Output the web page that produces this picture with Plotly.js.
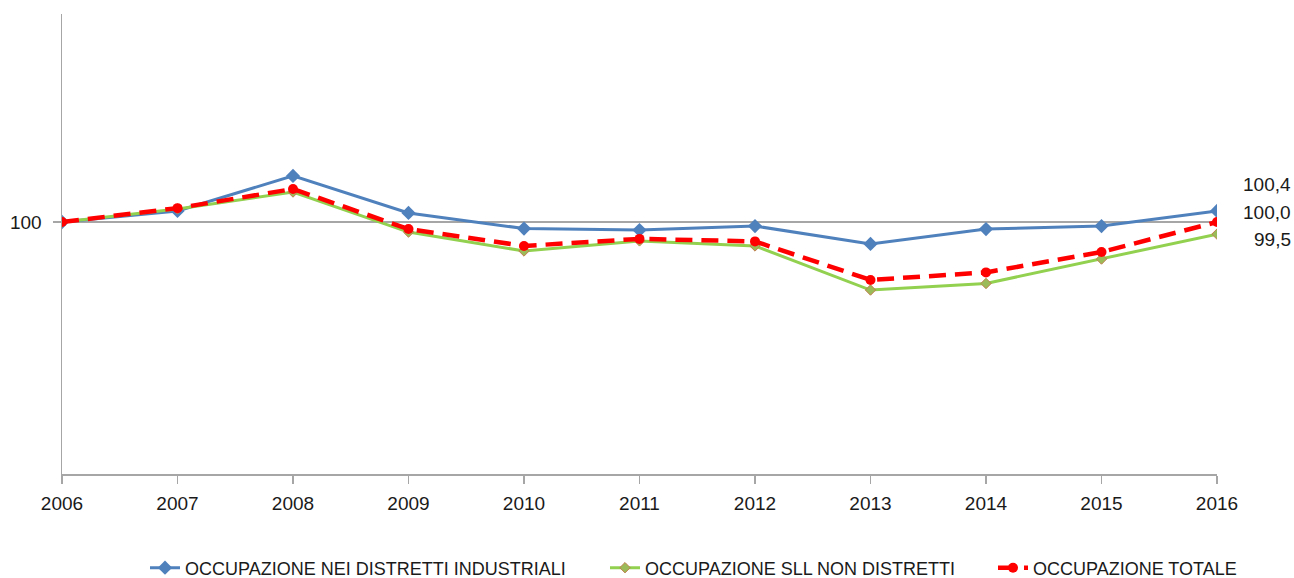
<!DOCTYPE html>
<html>
<head>
<meta charset="utf-8">
<script src="https://cdn.plot.ly/plotly-3.0.1.min.js"></script>
<style>html,body{margin:0;padding:0;background:#fff;}#chart{width:1294px;height:578px;}</style>
</head>
<body>
<div id="chart"></div>
<script>
const years = [2006, 2007, 2008, 2009, 2010, 2011, 2012, 2013, 2014, 2015, 2016];
const distretti = [100.0, 100.44, 101.83, 100.36, 99.74, 99.68, 99.84, 99.13, 99.72, 99.84, 100.44];
const nonDistretti = [100.0, 100.52, 101.19, 99.60, 98.85, 99.25, 99.05, 97.30, 97.56, 98.53, 99.52];
const totale = [100.0, 100.55, 101.31, 99.72, 99.05, 99.33, 99.23, 97.70, 98.00, 98.81, 100.0];
const seriesNames = ["OCCUPAZIONE NEI DISTRETTI INDUSTRIALI", "OCCUPAZIONE SLL NON DISTRETTI", "OCCUPAZIONE TOTALE"];
const endLabels = ["100,4", "100,0", "99,5"];
const endLabelY = [101.47, 100.36, 99.29];
const yTickVals = [100];
const yTickText = ["100"];

const font = "Liberation Sans, Arial, sans-serif";
const textColor = "#1a1a1a";

const traces = [
  {x: years, y: distretti, name: seriesNames[0], type: "scatter", mode: "lines+markers", legend: "legend",
   line: {color: "#4f81bd", width: 3}, marker: {symbol: "diamond", size: 11, color: "#4f81bd"}},
  {x: years, y: nonDistretti, name: seriesNames[1], type: "scatter", mode: "lines+markers", legend: "legend2",
   line: {color: "#92d050", width: 3}, marker: {symbol: "diamond", size: 8, color: "#9bbb59", line: {color: "#c0804d", width: 1}}},
  {x: years, y: totale, name: seriesNames[2], type: "scatter", mode: "lines+markers", legend: "legend3",
   line: {color: "#ff0000", width: 4.5, dash: "17px,9px"}, marker: {symbol: "circle", size: 10, color: "#ff0000"}}
];

const annotations = endLabels.map((t, i) => ({
  x: years[years.length - 1], y: endLabelY[i], xref: "x", yref: "y",
  text: t, showarrow: false, xanchor: "right", yanchor: "middle", xshift: 76,
  font: {family: font, size: 19, color: textColor}
}));

function leg(xpx) {
  return {orientation: "h", xref: "container", yref: "container", x: xpx / 1294, xanchor: "left",
          y: 10 / 578, yanchor: "middle", font: {family: font, size: 18, color: textColor},
          bgcolor: "rgba(0,0,0,0)"};
}

const layout = {
  width: 1294, height: 578,
  margin: {l: 62, r: 77, t: 14, b: 104, autoexpand: false},
  paper_bgcolor: "#fff", plot_bgcolor: "#fff",
  showlegend: true,
  legend: leg(145),
  legend2: leg(605),
  legend3: leg(993),
  xaxis: {range: [2006, 2016], tickvals: years, ticktext: years.map(String),
          showgrid: false, zeroline: false, showline: true, linecolor: "#a6a6a6", linewidth: 1.5,
          ticks: "outside", ticklen: 8, tickcolor: "#a6a6a6", tickwidth: 1.5, ticklabelstandoff: 4,
          tickfont: {family: font, size: 19, color: textColor}, fixedrange: true},
  yaxis: {range: [90, 108.254], tickvals: yTickVals, ticktext: yTickText,
          showgrid: true, gridcolor: "#a6a6a6", gridwidth: 1.2, zeroline: false,
          showline: true, linecolor: "#a6a6a6", linewidth: 1.5,
          ticks: "outside", ticklen: 8, tickcolor: "#a6a6a6", tickwidth: 1.5, ticklabelstandoff: 7,
          tickfont: {family: font, size: 19, color: textColor}, fixedrange: true},
  annotations: annotations
};

Plotly.newPlot("chart", traces, layout, {displayModeBar: false, staticPlot: true});
</script>
</body>
</html>
